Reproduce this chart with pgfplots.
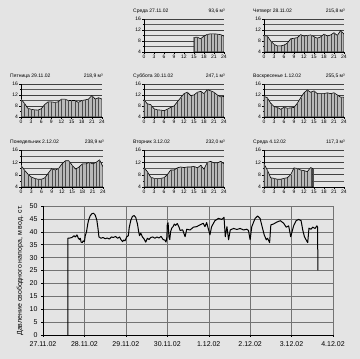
\documentclass[border=0pt]{standalone}
\usepackage{pgfplots}
\pgfplotsset{compat=1.18}
\usepackage{pgfplotstable}
\usepackage{fontspec}
\setmainfont{Liberation Sans}
\definecolor{bg}{RGB}{228,228,228}
\definecolor{areafill}{RGB}{185,185,185}

\pgfplotstableread{
x y
15 9.3
16 9.4
17 8.8
18 9.8
19 10.4
20 10.6
21 10.6
22 10.5
23 10.3
24 9.8
}\dA
\pgfplotstableread{
x y
0 10.0
1 9.8
2 8.0
3 6.8
4 6.2
5 6.2
6 6.5
7 7.2
8 8.8
9 9.0
10 9.2
11 10.3
12 9.8
13 10.0
14 10.2
15 9.6
16 9.0
17 9.5
18 10.5
19 9.8
20 10.2
21 11.0
22 10.0
23 11.8
24 10.5
}\dB
\pgfplotstableread{
x y
0 10.5
1 9.0
2 7.2
3 6.8
4 6.6
5 6.5
6 7.0
7 8.5
8 9.5
9 9.5
10 9.3
11 9.5
12 10.5
13 10.5
14 10.0
15 10.0
16 10.0
17 9.3
18 10.0
19 10.2
20 10.5
21 11.8
22 10.5
23 11.0
24 10.5
}\dC
\pgfplotstableread{
x y
0 10.2
1 8.8
2 8.5
3 7.0
4 6.6
5 6.5
6 6.3
7 6.8
8 7.5
9 8.0
10 9.5
11 11.0
12 12.5
13 13.0
14 11.8
15 12.0
16 13.0
17 13.3
18 12.5
19 14.0
20 13.5
21 13.0
22 12.0
23 11.3
24 11.5
}\dD
\pgfplotstableread{
x y
0 11.5
1 11.0
2 9.0
3 7.8
4 7.5
5 6.8
6 7.5
7 7.2
8 7.3
9 7.5
10 9.0
11 11.0
12 12.8
13 13.8
14 13.0
15 13.5
16 12.5
17 12.5
18 12.5
19 12.8
20 12.5
21 12.8
22 12.0
23 11.2
24 11.2
}\dE
\pgfplotstableread{
x y
0 11.0
1 9.5
2 8.2
3 7.2
4 6.8
5 6.5
6 6.5
7 7.0
8 8.5
9 10.0
10 9.5
11 10.0
12 11.5
13 12.5
14 12.5
15 11.0
16 9.8
17 10.5
18 11.5
19 11.5
20 12.0
21 11.5
22 12.0
23 12.8
24 10.5
}\dF
\pgfplotstableread{
x y
0 10.2
1 9.0
2 7.2
3 6.8
4 6.8
5 6.8
6 7.0
7 8.0
8 9.5
9 9.5
10 10.2
11 10.5
12 10.3
13 10.5
14 10.5
15 10.7
16 10.2
17 11.0
18 9.8
19 12.0
20 12.3
21 11.8
22 11.8
23 12.3
24 11.5
}\dG
\pgfplotstableread{
x y
0 11.5
1 9.5
2 7.0
3 6.8
4 6.5
5 6.5
6 6.8
7 7.0
8 8.0
9 10.2
10 10.0
11 9.5
12 9.3
13 9.0
14 10.3
14.6 10.0
}\dH

\pgfplotstableread{
x y
0.60 0
0.60 37.5
0.65 37.6
0.70 37.8
0.75 38.5
0.78 38.0
0.82 38.8
0.85 37.6
0.88 37.0
0.90 37.5
0.92 36.0
0.95 35.8
0.97 36.5
1.00 36.2
1.02 38.5
1.05 40.0
1.08 43.0
1.10 44.5
1.14 46.2
1.18 47.0
1.22 47.2
1.26 46.5
1.30 44.5
1.33 41.0
1.35 38.0
1.40 37.5
1.45 37.8
1.50 37.3
1.55 37.6
1.60 37.2
1.65 38.0
1.70 37.8
1.75 38.2
1.80 37.5
1.85 38.0
1.88 37.0
1.92 36.2
1.95 36.8
1.98 36.5
2.02 38.0
2.06 38.5
2.08 41.5
2.12 44.5
2.16 46.0
2.20 46.3
2.24 45.5
2.28 43.0
2.31 40.0
2.33 38.5
2.36 39.5
2.40 38.0
2.44 37.2
2.48 36.0
2.52 37.5
2.56 37.0
2.60 37.8
2.65 38.0
2.70 37.5
2.75 38.0
2.80 37.6
2.85 38.2
2.90 37.0
2.94 36.8
2.97 36.0
2.99 38.0
3.00 43.0
3.02 43.5
3.04 38.0
3.06 37.0
3.08 40.0
3.11 41.5
3.14 42.0
3.17 43.0
3.20 42.5
3.24 43.2
3.28 42.0
3.31 40.5
3.37 40.8
3.43 38.1
3.47 41.0
3.55 40.7
3.63 41.8
3.71 42.0
3.79 42.7
3.87 43.3
3.91 42.0
3.95 43.6
4.03 38.8
4.07 42.0
4.15 44.3
4.235 45.2
4.315 44.8
4.37 45.6
4.40 38.1
4.44 42.0
4.48 36.9
4.52 40.7
4.60 41.3
4.68 40.9
4.76 41.3
4.84 40.7
4.92 41.0
4.96 40.5
5.00 36.9
5.04 42.0
5.12 45.2
5.18 46.1
5.24 45.2
5.31 40.7
5.34 38.8
5.39 36.9
5.42 37.5
5.47 35.8
5.50 42.7
5.56 43.0
5.65 43.8
5.73 44.3
5.81 43.3
5.87 41.8
5.93 42.3
5.98 38.1
6.05 42.3
6.11 44.3
6.17 44.8
6.23 44.3
6.27 40.7
6.31 38.1
6.35 36.9
6.39 35.8
6.42 41.4
6.47 41.0
6.51 41.8
6.57 41.3
6.61 42.3
6.63 41.8
6.634 25.0
}\dMain

\pgfplotsset{
  small/.style={
    scale only axis, width=80pt, height=33pt, anchor=south west,
    xmin=0, xmax=24, ymin=4, ymax=16,
    xtick={0,3,...,24}, minor x tick num=2,
    ytick={4,8,12,16}, minor ytick={6,10,14},
    ymajorgrids, yminorgrids,
    major grid style={black!75, line width=0.35pt},
    minor grid style={black!65, line width=0.3pt},
    axis lines*=left, axis line style={black, line width=0.4pt},
    tick align=outside, major tick length=1.8pt, minor tick length=1.2pt,
    tick style={black, line width=0.3pt},
    ticklabel style={font=\fontsize{5}{5}\selectfont, inner sep=1pt},
    /pgf/number format/assume math mode=true,
    clip mode=individual,
  },
  pnl/.style={fill=areafill, draw=black, line width=0.6pt},
  cmb/.style={ycomb, draw=black!70, line width=0.3pt},
}
\newcommand{\ttl}[2]{%
  \node[anchor=base west, font=\fontsize{5}{6}\selectfont, inner sep=0] at (rel axis cs:0,1) [xshift=-11pt, yshift=6pt] {#1};
  \node[anchor=base east, font=\fontsize{5}{6}\selectfont, inner sep=0] at (rel axis cs:1,1) [xshift=1pt, yshift=6pt] {#2};
}

\begin{document}
\begin{tikzpicture}
\useasboundingbox (0,0) rectangle (360pt,359pt);
\fill[bg] (0,0) rectangle (360pt,359pt);

% Row 1
\begin{axis}[small, at={(144pt,307pt)}]
\addplot[pnl] table {\dA} \closedcycle;
\addplot[cmb] table {\dA};
\ttl{Среда 27.11.02}{93,6 м³}
\end{axis}
\begin{axis}[small, at={(264pt,307pt)}]
\addplot[pnl] table {\dB} \closedcycle;
\addplot[cmb] table {\dB};
\ttl{Четверг 28.11.02}{215,8 м³}
\end{axis}
% Row 2
\begin{axis}[small, width=81pt, at={(21pt,242pt)}]
\addplot[pnl] table {\dC} \closedcycle;
\addplot[cmb] table {\dC};
\ttl{Пятница 29.11.02}{218,9 м³}
\end{axis}
\begin{axis}[small, at={(144pt,242pt)}]
\addplot[pnl] table {\dD} \closedcycle;
\addplot[cmb] table {\dD};
\ttl{Суббота 30.11.02}{247,1 м³}
\end{axis}
\begin{axis}[small, at={(264pt,242pt)}]
\addplot[pnl] table {\dE} \closedcycle;
\addplot[cmb] table {\dE};
\ttl{Воскресенье 1.12.02}{255,5 м³}
\end{axis}
% Row 3
\begin{axis}[small, width=82pt, height=37pt, at={(21pt,172pt)}]
\addplot[pnl] table {\dF} \closedcycle;
\addplot[cmb] table {\dF};
\ttl{Понедельник 2.12.02}{238,9 м³}
\end{axis}
\begin{axis}[small, height=37pt, at={(144pt,172pt)}]
\addplot[pnl] table {\dG} \closedcycle;
\addplot[cmb] table {\dG};
\ttl{Вторник 3.12.02}{232,0 м³}
\end{axis}
\begin{axis}[small, height=37pt, at={(264pt,172pt)}]
\addplot[pnl] table {\dH} \closedcycle;
\addplot[cmb] table {\dH};
\ttl{Среда 4.12.02}{117,3 м³}
\end{axis}

% Main chart
\begin{axis}[scale only axis, width=290pt, height=129pt, at={(43pt,24pt)}, anchor=south west,
  xmin=0, xmax=7, ymin=0, ymax=50,
  xtick={0,...,7},
  xticklabels={27.11.02,28.11.02,29.11.02,30.11.02,1.12.02,2.12.02,3.12.02,4.12.02},
  ytick={0,5,...,50},
  grid=major, major grid style={black!55, line width=0.4pt},
  axis lines*=left, axis line style={black, line width=0.4pt},
  tick align=outside, major tick length=2pt, tick style={black, line width=0.4pt},
  ticklabel style={font=\fontsize{7}{8}\selectfont},
  /pgf/number format/assume math mode=true,
  xticklabel shift=1.5pt,
  every axis y label/.style={at={(axis description cs:-0.079,0.5)}, rotate=90, anchor=center},
  ylabel={Давление свободного напора, м вод. ст.},
  ylabel style={font=\fontsize{7}{8}\selectfont},
]
\addplot[black, line width=1pt, line join=round] table {\dMain};
\end{axis}
\end{tikzpicture}
\end{document}
